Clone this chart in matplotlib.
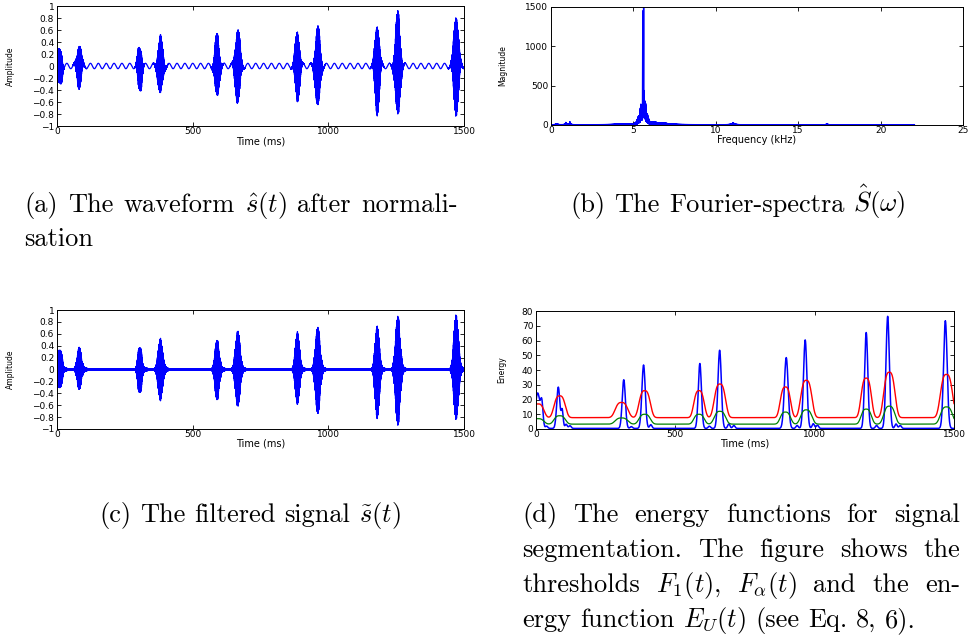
import numpy as np
import matplotlib
matplotlib.use('Agg')
import matplotlib.pyplot as plt
from matplotlib.ticker import FuncFormatter

W_PX, H_PX = 970, 638

# ---- panel (a)/(c): bursts ----
FS = 44.1            # samples per ms
CARRIER_KHZ = 5.6
HUM_PERIOD_MS = 29.0
HUM_AMP = 0.045
BURST_T = [8, 82, 305, 381, 590, 666, 886, 961, 1180, 1256, 1471]
BURST_W = [13, 10, 10, 11, 10, 11, 10, 11, 10, 11, 11]
BURST_SHAPE = [4, 2, 3, 2, 2, 2, 2, 2, 2, 2, 2]
RAW_POS = [0.25, 0.37, 0.30, 0.49, 0.53, 0.62, 0.60, 0.65, 0.72, 0.90, 0.88]
RAW_NEG = [-0.32, -0.35, -0.40, -0.48, -0.55, -0.63, -0.60, -0.70, -0.82, -0.86, -0.83]
FILT_POS = [0.32, 0.37, 0.36, 0.52, 0.51, 0.66, 0.65, 0.72, 0.75, 0.91, 0.95]
FILT_NEG = [-0.30, -0.33, -0.38, -0.52, -0.53, -0.63, -0.60, -0.75, -0.85, -0.95, -0.87]
TAIL_AMP = 0.03

# ---- panel (b): spectrum ----
SPEC_TOP_KHZ = 22.05
SPEC_FLOOR = 4
SPEC_LINE_KHZ = [5.57, 5.62]
SPEC_LINE_H = [1150, 1480]
SPEC_PEAK_KHZ = [0.35, 0.9, 1.15, 4.3, 5.3, 5.45, 5.6, 5.72, 5.85, 6.3, 6.9, 11.05, 16.75]
SPEC_PEAK_H = [12, 28, 35, 8, 70, 200, 300, 220, 80, 25, 15, 22, 10]
SPEC_PEAK_W = [0.05, 0.03, 0.03, 0.3, 0.08, 0.05, 0.05, 0.05, 0.08, 0.2, 0.3, 0.08, 0.04]

# ---- panel (d): energy functions ----
E_PEAK_T = [6, 21, 80, 94, 315, 386, 588, 659, 898, 966, 1185, 1262, 1469]
E_PEAK_H = [24, 15, 28, 12, 33, 43, 44, 53, 48, 60, 65, 76, 73]
E_PEAK_W = [12, 6, 8, 5, 8, 8.5, 8, 8.5, 9.5, 8.5, 8, 8.5, 9]
E_TAIL_T = [38, 108, 122, 342, 412, 622, 692, 710, 937, 995, 1010, 1222, 1292, 1307]
E_TAIL_H = [1.5, 2.8, 1.8, 1.2, 2.5, 1.5, 3, 2, 2, 3.2, 2.2, 2, 3, 2]
F_T = [8, 85, 307, 390, 585, 660, 895, 970, 1185, 1268, 1473]
F_W = [24, 24, 27, 24, 22, 24, 22, 24, 22, 24, 26]
F_ALPHA_BASE = 7.7
F_ALPHA_PEAK = [17, 22.5, 18, 26, 26, 30.5, 28.5, 33, 34.5, 38.5, 37]
F_ONE_BASE = 3.3
F_ONE_PEAK = [7, 9, 7.5, 10, 10, 12, 11.5, 13, 13.5, 15.5, 15]

TIME_TICKS = [0, 500, 1000, 1500]
AMP_TICKS = [-1, -0.8, -0.6, -0.4, -0.2, 0, 0.2, 0.4, 0.6, 0.8, 1]
FREQ_TICKS = [0, 5, 10, 15, 20, 25]
MAG_TICKS = [0, 500, 1000, 1500]
ENERGY_TICKS = [0, 10, 20, 30, 40, 50, 60, 70, 80]

CAP_SIZE = 19
plt.rcParams['mathtext.fontset'] = 'cm'
plt.rcParams['font.family'] = 'DejaVu Sans'

# build the signals from the read values
t = np.arange(0, 1500, 1 / FS)
carrier = np.sin(2 * np.pi * CARRIER_KHZ * t)
ripple = 0.88 + 0.12 * np.sin(2 * np.pi * t / 2.7)


def bursts(pos_peaks, neg_peaks):
  up = np.zeros_like(t)
  down = np.zeros_like(t)
  for c, w, p, a, b in zip(BURST_T, BURST_W, BURST_SHAPE, pos_peaks, neg_peaks):
    env = np.exp(-np.abs((t - c) / w) ** p) * ripple
    up = np.maximum(up, a * env)
    down = np.minimum(down, b * env)
  return np.where(carrier > 0, up * carrier, -down * carrier)


raw = bursts(RAW_POS, RAW_NEG) + HUM_AMP * np.sin(2 * np.pi * t / HUM_PERIOD_MS)

tail = np.full_like(t, 0.006)
for c in BURST_T:
  d = t - c - 12
  tail += np.where(d > 0, TAIL_AMP * np.exp(-np.clip(d, 0, None) / 18), 0)
filt = bursts(FILT_POS, FILT_NEG) + tail * carrier

f = np.arange(0, SPEC_TOP_KHZ, 0.002)
k = np.arange(f.size)
tex = 0.25 + 0.75 * np.abs(np.sin(k * 2.3999632)) ** 4
spec = SPEC_FLOOR * tex
for f0, h, w in zip(SPEC_PEAK_KHZ, SPEC_PEAK_H, SPEC_PEAK_W):
  spec += h * tex / (1 + ((f - f0) / w) ** 2)
for f0, h in zip(SPEC_LINE_KHZ, SPEC_LINE_H):
  spec += h / (1 + ((f - f0) / 0.006) ** 2)

te = np.arange(0, 1501, 1.0)
energy = np.full_like(te, 0.4)
for c, h, w in zip(E_PEAK_T, E_PEAK_H, E_PEAK_W):
  energy += h * np.exp(-((te - c) / w) ** 2)
for c, h in zip(E_TAIL_T, E_TAIL_H):
  energy += h * np.exp(-((te - c) / 6) ** 2)


def thresh(base, peaks):
  out = np.full_like(te, base)
  for c, w, p in zip(F_T, F_W, peaks):
    out += (p - base) * np.exp(-np.abs((te - c) / w) ** 3)
  return out


f_alpha = thresh(F_ALPHA_BASE, F_ALPHA_PEAK)
f_one = thresh(F_ONE_BASE, F_ONE_PEAK)


def fmt(v, pos):
  return ('%g' % v).replace('-', '\u2212')


def make_axes(fig, box, xticks, yticks, xlabel, ylabel, ylab_x):
  l, top, r, b = box
  ax = fig.add_axes([l / W_PX, 1 - b / H_PX, (r - l) / W_PX, (b - top) / H_PX])
  ax.set_xticks(xticks)
  ax.set_yticks(yticks)
  ax.set_xlim(xticks[0], xticks[-1])
  ax.set_ylim(yticks[0], yticks[-1])
  ax.xaxis.set_major_formatter(FuncFormatter(fmt))
  ax.yaxis.set_major_formatter(FuncFormatter(fmt))
  ax.tick_params(direction='in', length=3, width=0.6, top=True, right=True,
                 labelsize=6.5, pad=2)
  ax.tick_params(axis='x', pad=1)
  for s in ax.spines.values():
    s.set_linewidth(0.7)
  ax.set_xlabel(xlabel, fontsize=7, va='center')
  ax.xaxis.set_label_coords(0.5, -0.125)
  ax.set_ylabel(ylabel, fontsize=5.5, va='center')
  ax.yaxis.set_label_coords(ylab_x, 0.5)
  return ax


fig = plt.figure(figsize=(W_PX / 100, H_PX / 100), dpi=100)

ax_a = make_axes(fig, (57, 6, 464, 126), TIME_TICKS, AMP_TICKS, 'Time (ms)', 'Amplitude', -0.115)
ax_a.plot(t, raw, color='#0000ff', lw=0.9)

ax_b = make_axes(fig, (551, 7, 963, 125), FREQ_TICKS, MAG_TICKS, 'Frequency (kHz)', 'Magnitude', -0.117)
ax_b.plot(f, spec, color='#0000ff', lw=1.0)

ax_c = make_axes(fig, (57, 310, 464, 429), TIME_TICKS, AMP_TICKS, 'Time (ms)', 'Amplitude', -0.115)
ax_c.plot(t, filt, color='#0000ff', lw=0.9)

ax_d = make_axes(fig, (536, 311, 954, 429), TIME_TICKS, ENERGY_TICKS, 'Time (ms)', 'Energy', -0.081)
ax_d.plot(te, energy, color='#0000ff', lw=1.1)
ax_d.plot(te, f_alpha, color='#ff0000', lw=1.0)
ax_d.plot(te, f_one, color='#008000', lw=0.9)

# captions, set like the LaTeX ones (justified where the original is)
renderer = fig.canvas.get_renderer()


def caption_line(words, x0, y, x1=None, centre=None):
  texts = [fig.text(0, 1 - y / H_PX, w, fontsize=CAP_SIZE, family='cmr10',
                    va='baseline', ha='left') for w in words]
  widths = [tx.get_window_extent(renderer).width for tx in texts]
  if x1 is None or len(words) < 2:
    gap = CAP_SIZE * 100 / 72 * 0.333
  else:
    gap = (x1 - x0 - sum(widths)) / (len(words) - 1)
  if centre is not None:
    x0 = centre - (sum(widths) + gap * (len(words) - 1)) / 2
  x = x0
  for tx, w in zip(texts, widths):
    tx.set_x(x / W_PX)
    x += w + gap


caption_line(['(a)', 'The', 'waveform', r'$\hat{s}(t)$', 'after', 'normali-'], 24, 212, 458)
caption_line(['sation'], 24, 246)
caption_line(['(b)', 'The', 'Fourier-spectra', r'$\hat{S}(\omega)$'], 0, 212, centre=738)
caption_line(['(c)', 'The', 'filtered', 'signal', r'$\tilde{s}(t)$'], 0, 522, centre=250)
caption_line(['(d)', 'The', 'energy', 'functions', 'for', 'signal'], 522, 522, 960)
caption_line(['segmentation.', 'The', 'figure', 'shows', 'the'], 522, 557, 960)
caption_line(['thresholds', r'$F_1(t)$,', r'$F_\alpha(t)$', 'and', 'the', 'en-'], 522, 592, 960)
caption_line(['ergy', 'function', r'$E_U(t)$', '(see', 'Eq.', '8,', '6).'], 522, 627)

fig.savefig('out.png', dpi=100)
